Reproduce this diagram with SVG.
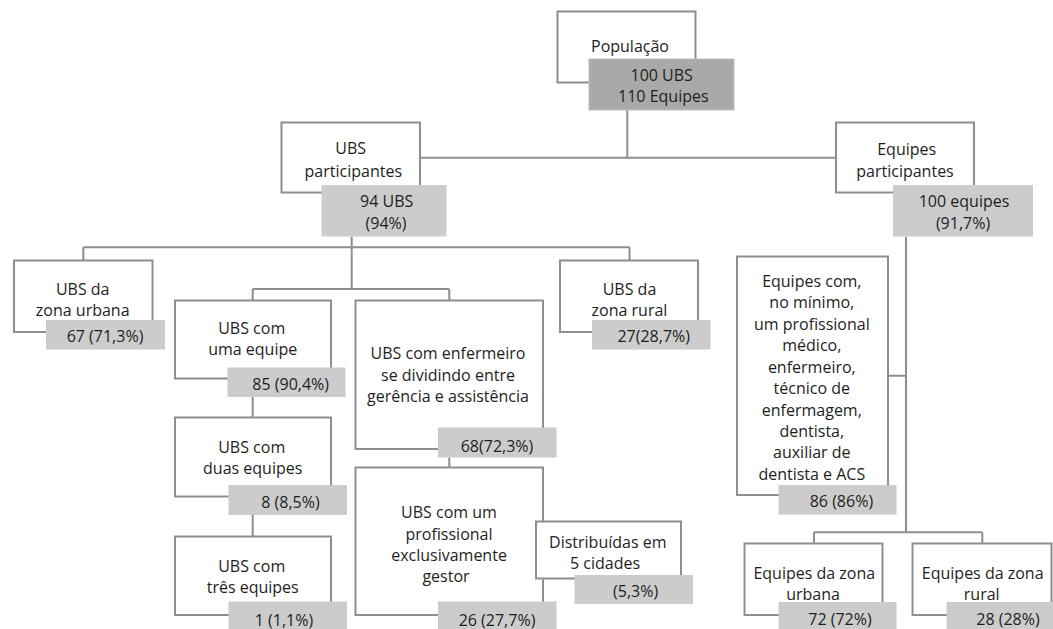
<svg xmlns="http://www.w3.org/2000/svg" width="1053" height="629" viewBox="0 0 1053 629">
<style>
.box{fill:#ffffff;stroke:#8e8e8e;stroke-width:2}
.lab{fill:#cccccc;stroke:none}
.dark{fill:#a9a9a9;stroke:#bdbdbd;stroke-width:1}
.con{fill:none;stroke:#8e8e8e;stroke-width:2}
text{font-family:"Open Sans","Noto Sans","Liberation Sans",sans-serif;font-size:16px;fill:#1e1e1e;text-anchor:middle}
</style>
<rect width="1053" height="629" fill="#ffffff"/>
<g id="connectors">
<path class="con" d="M627.3 110V157.7M420 157.7H836"/>
<path class="con" d="M351.7 236.7V289M83.3 247.3H629.5M83.3 247.3V260.5M629.5 247.3V260.5"/>
<path class="con" d="M252.7 289H449.3M252.7 289V300.5M449.3 289V300.5"/>
<path class="con" d="M252.7 397V417.5M252.7 515V536.5M449.3 457.5V467.5"/>
<path class="con" d="M906 236.7V532.3M888 375.7H906M814 532.3H982.3M814 532.3V543.5M982.3 532.3V543.5"/>
</g>
<g id="populacao">
<rect class="box" x="557.5" y="11.5" width="138" height="71"/>
<rect class="dark" x="589" y="59" width="145" height="51"/>
<text x="630" y="51.7">População</text>
<text x="661.7" y="81">100 UBS</text>
<text x="663.3" y="102">110 Equipes</text>
</g>
<g id="ubs-participantes">
<rect class="box" x="281.5" y="122.5" width="138.5" height="70"/>
<rect class="lab" x="321.5" y="185" width="125" height="51.5"/>
<text x="350.7" y="154">UBS</text>
<text x="353.3" y="176.7">participantes</text>
<text x="386.7" y="207">94 UBS</text>
<text x="386" y="229">(94%)</text>
</g>
<g id="equipes-participantes">
<rect class="box" x="836" y="122.5" width="138" height="70"/>
<rect class="lab" x="893" y="185" width="140" height="51.5"/>
<text x="906.7" y="155">Equipes</text>
<text x="905" y="176.7">participantes</text>
<text x="964" y="207">100 equipes</text>
<text x="963" y="229">(91,7%)</text>
</g>
<g id="ubs-zona-urbana">
<rect class="box" x="14" y="260.5" width="138.5" height="71.5"/>
<rect class="lab" x="46" y="320" width="119" height="29.5"/>
<text x="82.7" y="295">UBS da</text>
<text x="82.7" y="315.7">zona urbana</text>
<text x="105" y="341.7">67 (71,3%)</text>
</g>
<g id="ubs-uma-equipe">
<rect class="box" x="175" y="300.5" width="156" height="78"/>
<rect class="lab" x="227.5" y="367.5" width="118" height="29.5"/>
<text x="251.7" y="334">UBS com</text>
<text x="252.7" y="355">uma equipe</text>
<text x="290.7" y="390">85 (90,4%)</text>
</g>
<g id="ubs-duas-equipes">
<rect class="box" x="175" y="417.5" width="156" height="79"/>
<rect class="lab" x="228.5" y="485" width="118.5" height="30"/>
<text x="251.7" y="452.7">UBS com</text>
<text x="252.7" y="473.7">duas equipes</text>
<text x="290.5" y="507.7">8 (8,5%)</text>
</g>
<g id="ubs-tres-equipes">
<rect class="box" x="175" y="536.5" width="156" height="78.5"/>
<rect class="lab" x="228.5" y="601.5" width="118.5" height="30"/>
<text x="251.7" y="571.7">UBS com</text>
<text x="252.7" y="593.3">três equipes</text>
<text x="284" y="626">1 (1,1%)</text>
</g>
<g id="ubs-enfermeiro">
<rect class="box" x="355.5" y="300.5" width="187.5" height="148.5"/>
<rect class="lab" x="438" y="427.5" width="118.5" height="30"/>
<text x="448" y="359.3">UBS com enfermeiro</text>
<text x="448" y="380.7">se dividindo entre</text>
<text x="448" y="401.9">gerência e assistência</text>
<text x="497" y="451.7">68(72,3%)</text>
</g>
<g id="ubs-gestor">
<rect class="box" x="355.5" y="467.5" width="187.5" height="147.5"/>
<rect class="lab" x="438" y="601.5" width="118.5" height="30"/>
<text x="449" y="518.3">UBS com um</text>
<text x="449" y="539.5">profissional</text>
<text x="449" y="560.7">exclusivamente</text>
<text x="446" y="581.9">gestor</text>
<text x="497" y="626">26 (27,7%)</text>
</g>
<g id="distribuidas">
<rect class="box" x="536" y="521.5" width="145" height="57"/>
<rect class="lab" x="574.5" y="575" width="118.5" height="29"/>
<text x="607.8" y="548.3">Distribuídas em</text>
<text x="605" y="569.3">5 cidades</text>
<text x="635.6" y="597.3">(5,3%)</text>
</g>
<g id="ubs-zona-rural">
<rect class="box" x="560" y="260.5" width="138" height="71.5"/>
<rect class="lab" x="592" y="320" width="118.5" height="29.5"/>
<text x="629.5" y="295">UBS da</text>
<text x="629.5" y="315.7">zona rural</text>
<text x="653.7" y="341.7">27(28,7%)</text>
</g>
<g id="equipes-minimo">
<rect class="box" x="737" y="256.5" width="151" height="238.5"/>
<rect class="lab" x="778.5" y="485" width="118" height="29.5"/>
<text x="811.8" y="286.7">Equipes com,</text>
<text x="811.8" y="308.2">no mínimo,</text>
<text x="811.8" y="329.6">um profissional</text>
<text x="811.8" y="351.1">médico,</text>
<text x="811.8" y="372.6">enfermeiro,</text>
<text x="811.8" y="394">técnico de</text>
<text x="811.8" y="415.5">enfermagem,</text>
<text x="811.8" y="437">dentista,</text>
<text x="811.8" y="458.4">auxiliar de</text>
<text x="811.8" y="479.9">dentista e ACS</text>
<text x="841.4" y="506.7">86 (86%)</text>
</g>
<g id="equipes-zona-urbana">
<rect class="box" x="744.5" y="543.5" width="138" height="71.5"/>
<rect class="lab" x="778.5" y="602" width="118" height="30"/>
<text x="814.3" y="579">Equipes da zona</text>
<text x="813" y="600">urbana</text>
<text x="840" y="625">72 (72%)</text>
</g>
<g id="equipes-zona-rural">
<rect class="box" x="912.5" y="543.5" width="139" height="71.5"/>
<rect class="lab" x="946.5" y="602" width="118" height="30"/>
<text x="982.7" y="579">Equipes da zona</text>
<text x="981.7" y="600">rural</text>
<text x="1008" y="625">28 (28%)</text>
</g>
</svg>
